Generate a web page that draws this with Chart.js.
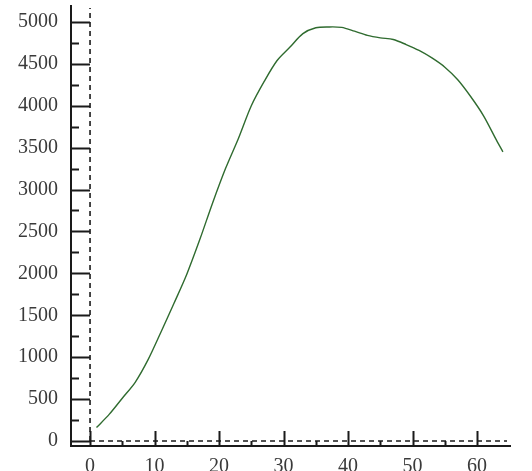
<!DOCTYPE html>
<html>
<head>
<meta charset="utf-8">
<script src="https://cdn.jsdelivr.net/npm/chart.js@4/dist/chart.umd.min.js"></script>
<style>
  html, body { margin: 0; padding: 0; background: #fff; }
  #plot { display: block; }
</style>
</head>
<body>
<canvas id="plot" width="532" height="471"></canvas>
<script>
// curve samples (x, value)
const xs = [1, 3, 5, 7, 9, 11, 13, 15, 17, 19, 21, 23, 25, 27, 29, 31, 33,
            35, 37, 39, 41, 43, 45, 47, 49, 51, 53, 55, 57, 59, 61, 63, 64]
const ys = [160, 320, 510, 700, 970, 1300, 1640, 1990, 2400, 2840, 3250, 3610,
            4000, 4290, 4540, 4700, 4860, 4930, 4940, 4935, 4890, 4840, 4810,
            4790, 4730, 4660, 4570, 4460, 4310, 4110, 3880, 3590, 3450]

// tick labels
const xTicks = [0, 10, 20, 30, 40, 50, 60]
const xMinor = [5, 15, 25, 35, 45, 55]
const yTicks = [0, 500, 1000, 1500, 2000, 2500, 3000, 3500, 4000, 4500, 5000]
const yMinor = [250, 750, 1250, 1750, 2250, 2750, 3250, 3750, 4250, 4750]

const ink = '#1a1a1a'

// inward tick marks and the dashed lines through the origin
const innerAxes = {
    id: 'innerAxes',
    beforeDatasetsDraw(chart) {
        const ctx = chart.ctx
        const area = chart.chartArea
        const sx = chart.scales.x
        const sy = chart.scales.y
        const x0 = sx.getPixelForValue(0)
        const y0 = sy.getPixelForValue(0)
        ctx.save()
        ctx.strokeStyle = ink
        ctx.lineWidth = 1.6
        ctx.setLineDash([5, 4])
        ctx.beginPath()
        ctx.moveTo(x0, y0)
        ctx.lineTo(area.right - 3, y0)
        ctx.moveTo(x0, y0)
        ctx.lineTo(x0, area.top + 2)
        ctx.stroke()
        ctx.setLineDash([])
        ctx.lineWidth = 2
        ctx.beginPath()
        yTicks.forEach(v => {
            const p = Math.round(sy.getPixelForValue(v)) + 0.5
            ctx.moveTo(area.left, p)
            ctx.lineTo(x0, p)
        })
        yMinor.forEach(v => {
            const p = Math.round(sy.getPixelForValue(v)) + 0.5
            ctx.moveTo(area.left, p)
            ctx.lineTo(area.left + 8, p)
        })
        xTicks.forEach(v => {
            const p = Math.round(sx.getPixelForValue(v)) + 0.5
            ctx.moveTo(p, area.bottom)
            ctx.lineTo(p, area.bottom - 15)
        })
        xMinor.forEach(v => {
            const p = Math.round(sx.getPixelForValue(v)) + 0.5
            ctx.moveTo(p, area.bottom)
            ctx.lineTo(p, area.bottom - 5)
        })
        ctx.stroke()
        ctx.restore()
    }
}

const labelFont = { family: '"Liberation Serif", "Times New Roman", serif', size: 20 }

new Chart(document.getElementById('plot'), {
    type: 'line',
    data: {
        datasets: [{
            data: xs.map((x, i) => ({ x: x, y: ys[i] })),
            borderColor: '#2f6b2f',
            borderWidth: 1.4,
            fill: false,
            pointRadius: 0,
            tension: 0.3
        }]
    },
    options: {
        responsive: false,
        animation: false,
        devicePixelRatio: 1,
        layout: { padding: { top: 6, right: 22, left: 0, bottom: 0 } },
        plugins: { legend: { display: false }, tooltip: { enabled: false } },
        scales: {
            x: {
                type: 'linear',
                min: -2.95,
                max: 65.1,
                afterFit: s => { s.height = 25; s.paddingLeft = 0; s.paddingRight = 0 },
                afterBuildTicks: s => { s.ticks = xTicks.map(v => ({ value: v })) },
                grid: { display: false },
                border: { display: true, color: ink, width: 2 },
                ticks: { color: '#3a3a3a', font: labelFont, padding: 1, maxRotation: 0,
                         callback: v => String(v) }
            },
            y: {
                type: 'linear',
                min: -60,
                max: 5190,
                afterFit: s => { s.width = 71; s.paddingTop = 0; s.paddingBottom = 0 },
                afterBuildTicks: s => { s.ticks = yTicks.map(v => ({ value: v })) },
                grid: { display: false },
                border: { display: true, color: ink, width: 2 },
                ticks: { color: '#3a3a3a', font: labelFont, padding: 5,
                         callback: v => String(v) }
            }
        }
    },
    plugins: [innerAxes]
})
</script>
</body>
</html>
